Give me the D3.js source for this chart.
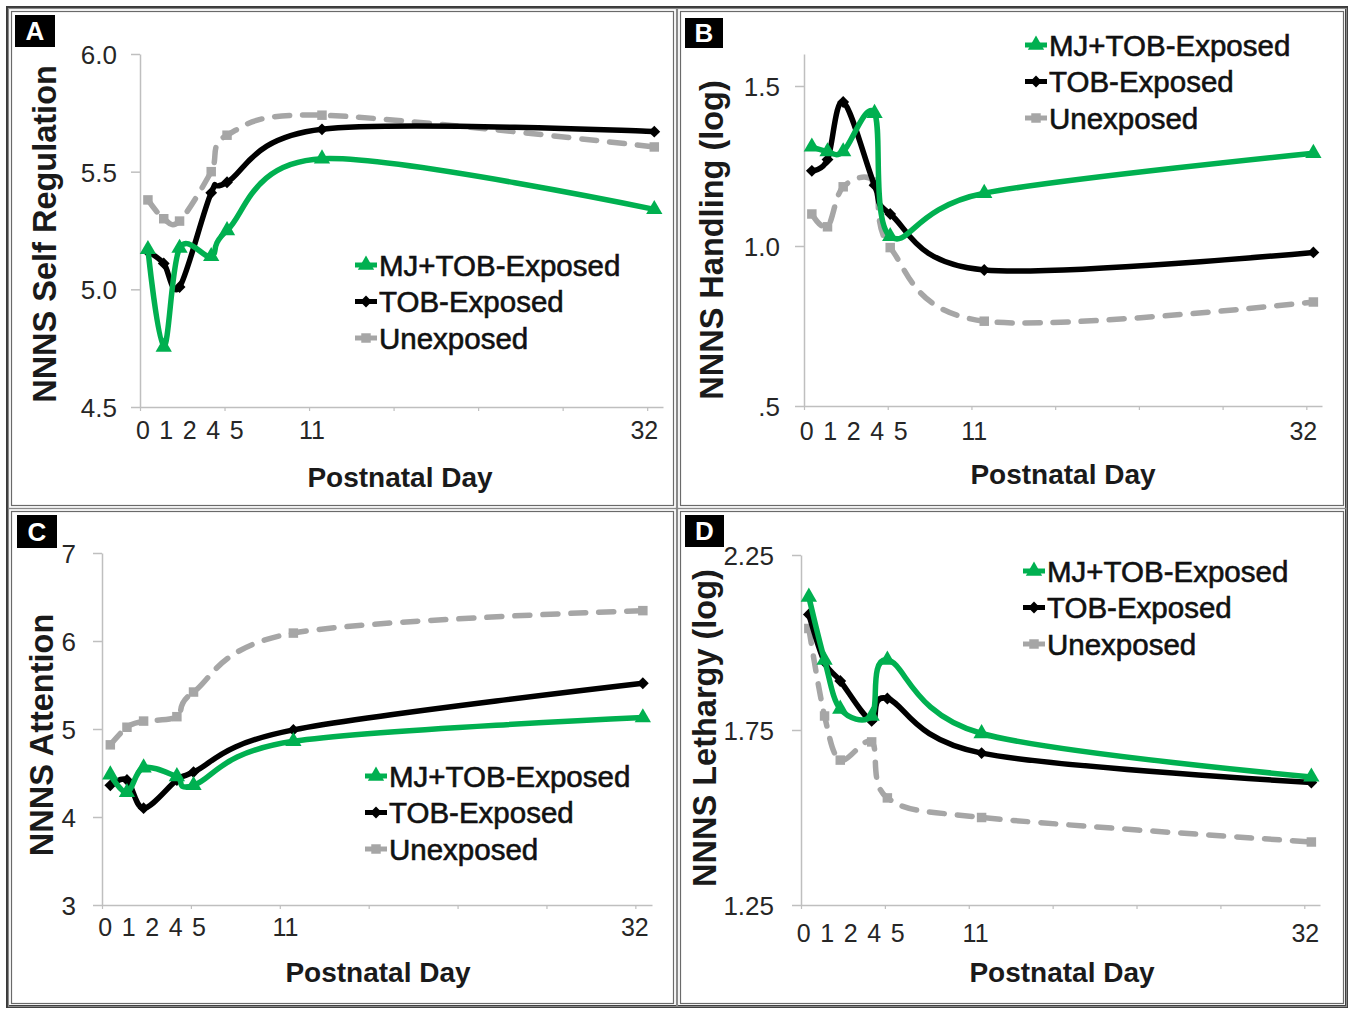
<!DOCTYPE html>
<html>
<head>
<meta charset="utf-8">
<script src="https://cdn.jsdelivr.net/npm/d3@7/dist/d3.min.js"></script>
<style>
  html, body { margin: 0; padding: 0; background: #fff; }
  svg { display: block; font-family: "Liberation Sans", Arial, sans-serif; }
</style>
</head>
<body>
<svg id="chart" width="1353" height="1009"></svg>
<script>
// ---------------- DATA ----------------
const days = [0, 1, 2, 4, 5, 11, 32];
const seriesNames = ["MJ+TOB-Exposed", "TOB-Exposed", "Unexposed"];
const panelLetters = ["A", "B", "C", "D"];
const yTitles = ["NNNS Self Regulation", "NNNS Handling (log)", "NNNS Attention", "NNNS Lethargy (log)"];
const xTitle = "Postnatal Day";
const xLabelCluster = "0 1 2 4 5";
const xLabelDays = [11, 32];

// Panel A: Self Regulation
const selfRegMjTob   = [5.17, 4.755, 5.175, 5.14, 5.25, 5.555, 5.34];
const selfRegTob     = [5.16, 5.11, 5.01, 5.41, 5.455, 5.68, 5.67];
const selfRegUnexp   = [5.38, 5.30, 5.29, 5.50, 5.655, 5.74, 5.605];
const selfRegTicks   = [4.5, 5.0, 5.5, 6.0];
const selfRegLabels  = ["4.5", "5.0", "5.5", "6.0"];

// Panel B: Handling (log)
const handlingMjTob  = [1.31, 1.295, 1.295, 1.415, 1.03, 1.165, 1.29];
const handlingTob    = [1.235, 1.27, 1.45, 1.19, 1.10, 0.925, 0.98];
const handlingUnexp  = [1.10, 1.06, 1.185, 1.20, 0.995, 0.765, 0.825];
const handlingTicks  = [0.5, 1.0, 1.5];
const handlingLabels = [".5", "1.0", "1.5"];

// Panel C: Attention
const attentionMjTob  = [4.48, 4.28, 4.56, 4.46, 4.36, 4.86, 5.13];
const attentionTob    = [4.36, 4.42, 4.10, 4.42, 4.51, 4.99, 5.52];
const attentionUnexp  = [4.82, 5.02, 5.09, 5.14, 5.42, 6.09, 6.345];
const attentionTicks  = [3, 4, 5, 6, 7];
const attentionLabels = ["3", "4", "5", "6", "7"];

// Panel D: Lethargy (log)
const lethargyMjTob  = [2.13, 1.95, 1.81, 1.79, 1.95, 1.74, 1.616];
const lethargyTob    = [2.08, 1.944, 1.89, 1.776, 1.84, 1.684, 1.60];
const lethargyUnexp  = [2.04, 1.79, 1.664, 1.716, 1.556, 1.50, 1.43];
const lethargyTicks  = [1.25, 1.75, 2.25];
const lethargyLabels = ["1.25", "1.75", "2.25"];

// ---------------- STYLE / LAYOUT ----------------
const colors = ["#00B050", "#000000", "#A6A6A6"];
const dashes = [null, null, "15 13"];
const symbols = [d3.symbolTriangle, d3.symbolSquare, d3.symbolSquare];
const symbolSizes = [115, 70, 90];
const symbolRot = [0, 45, 0];

const panels = [
  { frame: [10, 10, 665, 497], plot: { left: 140, right: 663, top: 54, bottom: 407 },
    yDomain: [4.5, 6.0], ticks: selfRegTicks, labels: selfRegLabels,
    series: [selfRegMjTob, selfRegTob, selfRegUnexp],
    box: [15, 15, 40, 32], yTitle: [45, 234], xTitle: [400, 487], xLabY: 439,
    legend: [366, 265], yPad: 14, xLabShift: -10 },
  { frame: [679, 10, 666, 497], plot: { left: 804, right: 1322, top: 54, bottom: 406 },
    yDomain: [0.5, 1.6], ticks: handlingTicks, labels: handlingLabels,
    series: [handlingMjTob, handlingTob, handlingUnexp],
    box: [685, 18, 38, 30], yTitle: [712, 240], xTitle: [1063, 484], xLabY: 440,
    legend: [1036, 45], yPad: 15, xLabShift: -10 },
  { frame: [10, 510, 665, 495], plot: { left: 102, right: 652, top: 553, bottom: 905 },
    yDomain: [3, 7], ticks: attentionTicks, labels: attentionLabels,
    series: [attentionMjTob, attentionTob, attentionUnexp],
    box: [17, 515, 40, 33], yTitle: [42, 735], xTitle: [378, 982], xLabY: 936,
    legend: [376, 776], yPad: 17, xLabShift: -8 },
  { frame: [679, 510, 666, 495], plot: { left: 801, right: 1320, top: 555, bottom: 905 },
    yDomain: [1.25, 2.25], ticks: lethargyTicks, labels: lethargyLabels,
    series: [lethargyMjTob, lethargyTob, lethargyUnexp],
    box: [685, 515, 39, 32], yTitle: [705, 728], xTitle: [1062, 982], xLabY: 942,
    legend: [1034, 571], yPad: 18, xLabShift: -6 }
];

const svg = d3.select("#chart");
svg.append("rect").attr("x", 0).attr("y", 0).attr("width", 1353).attr("height", 1009).attr("fill", "#fff");
// outer dark border
svg.append("rect").attr("x", 7.5).attr("y", 7.5).attr("width", 1339).attr("height", 999)
  .attr("fill", "none").attr("stroke", "#3a3a3a").attr("stroke-width", 3);

const xPad = 0.5, xMax = 32.55;

panels.forEach((p, pi) => {
  const g = svg.append("g");
  const [fx, fy, fw, fh] = p.frame;
  g.append("rect").attr("x", fx - 1.5).attr("y", fy - 1.5).attr("width", fw + 3).attr("height", fh + 3)
    .attr("fill", "none").attr("stroke", "#8a8a8a").attr("stroke-width", 1.2);
  g.append("rect").attr("x", fx + 1.5).attr("y", fy + 1.5).attr("width", fw - 3).attr("height", fh - 3)
    .attr("fill", "#fff").attr("stroke", "#6a6a6a").attr("stroke-width", 1.2);

  const x = d3.scaleLinear().domain([-xPad, xMax]).range([p.plot.left, p.plot.right]);
  const y = d3.scaleLinear().domain(p.yDomain).range([p.plot.bottom, p.plot.top]);

  // y axis
  const yAx = g.append("g").attr("transform", `translate(${p.plot.left},0)`)
    .call(d3.axisLeft(y).tickValues(p.ticks).tickFormat((d, i) => p.labels[i])
      .tickSize(9).tickSizeOuter(0).tickPadding(p.yPad));
  yAx.select(".domain").attr("stroke", "#BFBFBF").attr("stroke-width", 1.5);
  yAx.selectAll(".tick line").attr("stroke", "#BFBFBF").attr("stroke-width", 1.5);
  yAx.selectAll(".tick text").attr("fill", "#262626").attr("font-size", 26)
    .attr("font-family", "Liberation Sans, Arial, sans-serif").attr("dy", "0.36em");

  // x axis (unlabeled minor ticks)
  const xTickVals = d3.range(7).map(i => -xPad + i * (xMax - 1 + xPad) / 6);
  const xAx = g.append("g").attr("transform", `translate(0,${p.plot.bottom})`)
    .call(d3.axisBottom(x).tickValues(xTickVals).tickFormat("").tickSize(4).tickSizeOuter(0));
  xAx.select(".domain").attr("stroke", "#BFBFBF").attr("stroke-width", 1.5);
  xAx.selectAll(".tick line").attr("stroke", "#BFBFBF").attr("stroke-width", 1.2);

  // x labels
  g.append("text").attr("x", x(0) - 12).attr("y", p.xLabY)
    .attr("font-size", 25).attr("fill", "#262626").attr("letter-spacing", 1.3)
    .text(xLabelCluster);
  xLabelDays.forEach(d => {
    g.append("text").attr("x", x(d) + p.xLabShift).attr("y", p.xLabY).attr("text-anchor", "middle")
      .attr("font-size", 25).attr("fill", "#262626").text(d);
  });

  // titles
  g.append("text").attr("x", p.xTitle[0]).attr("y", p.xTitle[1]).attr("text-anchor", "middle")
    .attr("font-size", 28).attr("font-weight", "bold").attr("fill", "#1a1a1a").text(xTitle);
  g.append("text").attr("transform", `translate(${p.yTitle[0]},${p.yTitle[1]}) rotate(-90)`)
    .attr("text-anchor", "middle").attr("dy", "0.35em")
    .attr("font-size", 32.5).attr("font-weight", "bold").attr("fill", "#1a1a1a").text(yTitles[pi]);

  // panel letter box
  const [bx, by, bw, bh] = p.box;
  g.append("rect").attr("x", bx).attr("y", by).attr("width", bw).attr("height", bh).attr("fill", "#000");
  g.append("text").attr("x", bx + bw / 2).attr("y", by + bh / 2).attr("dy", "0.36em")
    .attr("text-anchor", "middle").attr("font-size", 26).attr("font-weight", "bold")
    .attr("fill", "#fff").text(panelLetters[pi]);

  // series (draw gray first, then black, then green)
  const line = d3.line().x((d, i) => x(days[i])).y(d => y(d)).curve(d3.curveCardinal.tension(0));
  [2, 1, 0].forEach(si => {
    const vals = p.series[si];
    g.append("path").datum(vals).attr("d", line)
      .attr("fill", "none").attr("stroke", colors[si]).attr("stroke-width", 5.5)
      .attr("stroke-linecap", si === 2 ? "round" : "butt").attr("stroke-linejoin", "round")
      .attr("stroke-dasharray", dashes[si]);
    g.selectAll(null).data(vals).enter().append("path")
      .attr("d", d3.symbol().type(symbols[si]).size(symbolSizes[si]))
      .attr("transform", (d, i) => `translate(${x(days[i])},${y(d)}) rotate(${symbolRot[si]})`)
      .attr("fill", colors[si]);
  });

  // legend
  const [lx, ly] = p.legend;
  seriesNames.forEach((name, si) => {
    const cy = ly + si * 36.5;
    g.append("line").attr("x1", lx - 11).attr("x2", lx + 11).attr("y1", cy).attr("y2", cy)
      .attr("stroke", colors[si]).attr("stroke-width", 5);
    g.append("path").attr("d", d3.symbol().type(symbols[si]).size(symbolSizes[si]))
      .attr("transform", `translate(${lx},${cy}) rotate(${symbolRot[si]})`).attr("fill", colors[si]);
    g.append("text").attr("x", lx + 13).attr("y", cy).attr("dy", "0.36em")
      .attr("font-size", 29.5).attr("fill", "#111").attr("stroke", "#111").attr("stroke-width", 0.6)
      .text(name);
  });
});
</script>
</body>
</html>
